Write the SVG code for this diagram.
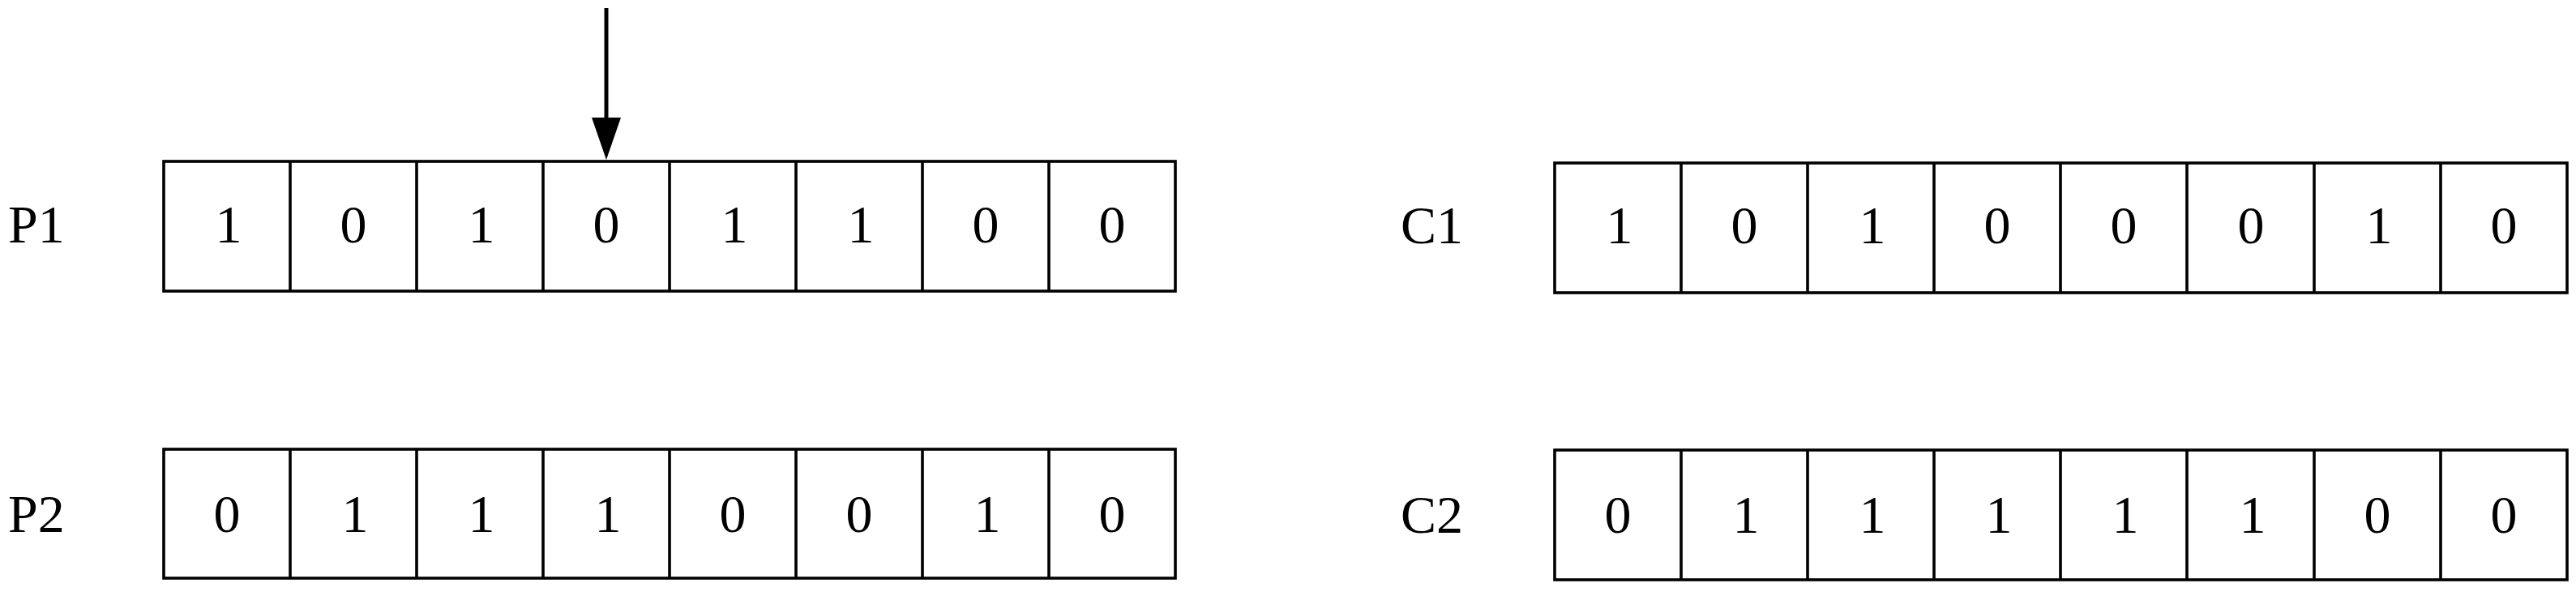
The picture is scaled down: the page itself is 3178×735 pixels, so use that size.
<svg xmlns="http://www.w3.org/2000/svg" width="3178" height="735" viewBox="0 0 3178 735">
<style>
.box{fill:none;stroke:#000;stroke-width:3.6}
.div{stroke:#000;stroke-width:3.6}
text{font-family:"Liberation Serif","DejaVu Serif",serif;font-size:66px;fill:#000}
.d{text-anchor:middle}
</style>
<rect width="3178" height="735" fill="#fff"/>
<g id="connectors">
<line x1="748" y1="10" x2="748" y2="148" stroke="#000" stroke-width="5"/>
<polygon points="730,145 766,145 748,197" fill="#000"/>
</g>
<g id="P1">
<text x="10" y="299">P1</text>
<rect class="box" x="202" y="199" width="1248" height="160"/>
<path class="div" d="M358 199V359M514 199V359M670 199V359M826 199V359M982 199V359M1138 199V359M1294 199V359"/>
<text class="d" x="282" y="299">1</text><text class="d" x="436" y="299">0</text><text class="d" x="594" y="299">1</text><text class="d" x="748" y="299">0</text><text class="d" x="906" y="299">1</text><text class="d" x="1062" y="299">1</text><text class="d" x="1216" y="299">0</text><text class="d" x="1372" y="299">0</text>
</g>
<g id="P2">
<text x="10" y="656">P2</text>
<rect class="box" x="202" y="554" width="1248" height="159"/>
<path class="div" d="M358 554V713M514 554V713M670 554V713M826 554V713M982 554V713M1138 554V713M1294 554V713"/>
<text class="d" x="280" y="656">0</text><text class="d" x="438" y="656">1</text><text class="d" x="594" y="656">1</text><text class="d" x="750" y="656">1</text><text class="d" x="904" y="656">0</text><text class="d" x="1060" y="656">0</text><text class="d" x="1218" y="656">1</text><text class="d" x="1372" y="656">0</text>
</g>
<g id="C1">
<text x="1728" y="300">C1</text>
<rect class="box" x="1918" y="201" width="1249" height="160"/>
<path class="div" d="M2074 201V361M2230 201V361M2386 201V361M2542 201V361M2698 201V361M2855 201V361M3011 201V361"/>
<text class="d" x="1998" y="300">1</text><text class="d" x="2152" y="300">0</text><text class="d" x="2310" y="300">1</text><text class="d" x="2464" y="300">0</text><text class="d" x="2620" y="300">0</text><text class="d" x="2777" y="300">0</text><text class="d" x="2935" y="300">1</text><text class="d" x="3089" y="300">0</text>
</g>
<g id="C2">
<text x="1728" y="657">C2</text>
<rect class="box" x="1918" y="555" width="1249" height="160"/>
<path class="div" d="M2074 555V715M2230 555V715M2386 555V715M2542 555V715M2698 555V715M2855 555V715M3011 555V715"/>
<text class="d" x="1996" y="657">0</text><text class="d" x="2154" y="657">1</text><text class="d" x="2310" y="657">1</text><text class="d" x="2466" y="657">1</text><text class="d" x="2622" y="657">1</text><text class="d" x="2779" y="657">1</text><text class="d" x="2933" y="657">0</text><text class="d" x="3089" y="657">0</text>
</g>
</svg>
